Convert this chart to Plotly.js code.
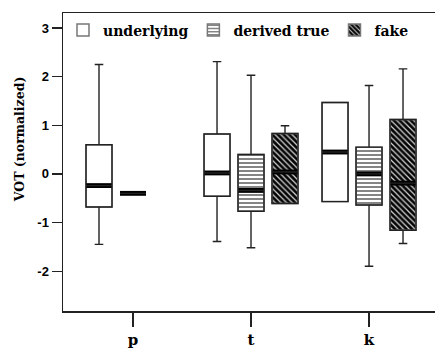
<!DOCTYPE html>
<html>
<head>
<meta charset="utf-8">
<script src="https://cdn.plot.ly/plotly-3.0.1.min.js"></script>
<style>html,body{margin:0;padding:0;background:#fff;}#chart{width:435px;height:351px;}</style>
</head>
<body>
<div id="chart"></div>
<script>
// ---- data ----
const categories = ['p', 't', 'k'];

const underlyingX = ['p', 't', 'k'];
const underlyingLower = [-1.45, -1.39, -0.57];
const underlyingQ1 = [-0.68, -0.46, -0.57];
const underlyingMedian = [-0.24, 0.02, 0.45];
const underlyingQ3 = [0.60, 0.82, 1.47];
const underlyingUpper = [2.25, 2.31, 1.47];

const derivedX = ['p', 't', 'k'];
const derivedLower = [-0.40, -1.52, -1.90];
const derivedQ1 = [-0.40, -0.77, -0.64];
const derivedMedian = [-0.40, -0.34, 0.00];
const derivedQ3 = [-0.40, 0.40, 0.55];
const derivedUpper = [-0.40, 2.03, 1.82];

const fakeX = ['t', 'k'];
const fakeLower = [-0.61, -1.43];
const fakeQ1 = [-0.61, -1.16];
const fakeMedian = [0.04, -0.19];
const fakeQ3 = [0.83, 1.12];
const fakeUpper = [0.99, 2.16];

const yTickVals = [-2, -1, 0, 1, 2, 3];
const yTickText = ['-2', '-1', '0', '1', '2', '3'];
const yTitle = 'VOT (normalized)';

// ---- styles ----
const MED_HALF = 0.05;
const OUTLINE = '#777';
const WHISK = '#222';
const GAP = 0.136, GROUPGAP = 0.235;
const SERIF = 'DejaVu Serif';

const series = [
  {name: 'underlying', key: 'u', x: underlyingX, lo: underlyingLower, q1: underlyingQ1, med: underlyingMedian, q3: underlyingQ3, hi: underlyingUpper,
   marker: {color: '#ffffff', line: {color: OUTLINE, width: 1.5}}},
  {name: 'derived true', key: 'd', x: derivedX, lo: derivedLower, q1: derivedQ1, med: derivedMedian, q3: derivedQ3, hi: derivedUpper,
   marker: {color: '#ffffff', line: {color: OUTLINE, width: 1.5},
            pattern: {shape: '-', fgcolor: '#333', bgcolor: '#ffffff', size: 4, solidity: 0.3}}},
  {name: 'fake', key: 'f', x: fakeX, lo: fakeLower, q1: fakeQ1, med: fakeMedian, q3: fakeQ3, hi: fakeUpper,
   marker: {color: '#111', line: {color: OUTLINE, width: 1.5},
            pattern: {shape: '\\', fgcolor: '#d4d4d4', bgcolor: '#050505', size: 4, solidity: 0.3}}}
];

const traces = [];
series.forEach(s => {
  traces.push({
    type: 'bar', name: s.name, x: s.x,
    base: s.q1, y: s.q3.map((v, i) => v - s.q1[i]),
    offsetgroup: s.key, marker: s.marker, showlegend: true, hoverinfo: 'skip'
  });
  traces.push({
    type: 'bar', name: s.name + ' median', x: s.x,
    base: s.med.map(v => v - MED_HALF), y: s.med.map(() => 2 * MED_HALF),
    offsetgroup: s.key, marker: {color: '#000', line: {width: 0}}, showlegend: false, hoverinfo: 'skip'
  });
  traces.push({
    type: 'box', name: s.name, x: s.x,
    q1: s.q1, median: s.med, q3: s.q3, lowerfence: s.lo, upperfence: s.hi,
    offsetgroup: s.key, boxpoints: false, whiskerwidth: 0.33,
    fillcolor: 'rgba(0,0,0,0)', line: {color: WHISK, width: 1.4}, showlegend: false, hoverinfo: 'skip'
  });
});

const layout = {
  width: 435, height: 351,
  margin: {l: 63, r: 0, t: 13, b: 40},
  paper_bgcolor: '#fff', plot_bgcolor: '#fff',
  barmode: 'group', bargap: GAP, bargroupgap: GROUPGAP,
  boxmode: 'group', boxgap: GAP, boxgroupgap: GROUPGAP,
  showlegend: true,
  legend: {
    orientation: 'h', x: 0, xanchor: 'left', y: 0.995, yanchor: 'top',
    bgcolor: 'rgba(0,0,0,0)', borderwidth: 0,
    font: {family: SERIF, size: 14, weight: 'bold', color: '#000'}, traceorder: 'normal'
  },
  xaxis: {
    type: 'category', categoryorder: 'array', categoryarray: categories,
    range: [-0.593, 2.559], showgrid: false, zeroline: false,
    showline: true, linecolor: '#222', linewidth: 1.5, mirror: true,
    ticks: 'outside', ticklen: 14, tickwidth: 1.2, tickcolor: '#222',
    tickfont: {family: SERIF, size: 15, weight: 'bold', color: '#000'}
  },
  yaxis: {
    range: [-2.82, 3.31], showgrid: false, zeroline: false,
    showline: true, linecolor: '#222', linewidth: 1.5,
    ticks: 'outside', ticklen: 10, tickwidth: 1.2, tickcolor: '#222',
    tickvals: yTickVals, ticktext: yTickText,
    tickfont: {family: 'Liberation Sans', size: 13, weight: 'bold', color: '#000'}
  },
  annotations: [{
    text: yTitle, textangle: -90, showarrow: false,
    xref: 'paper', yref: 'paper', x: -0.115, y: 0.574, xanchor: 'center', yanchor: 'middle',
    font: {family: SERIF, size: 12.5, weight: 'bold', color: '#000'}
  }]
};

Plotly.newPlot('chart', traces, layout, {displayModeBar: false, staticPlot: true});
</script>
</body>
</html>
